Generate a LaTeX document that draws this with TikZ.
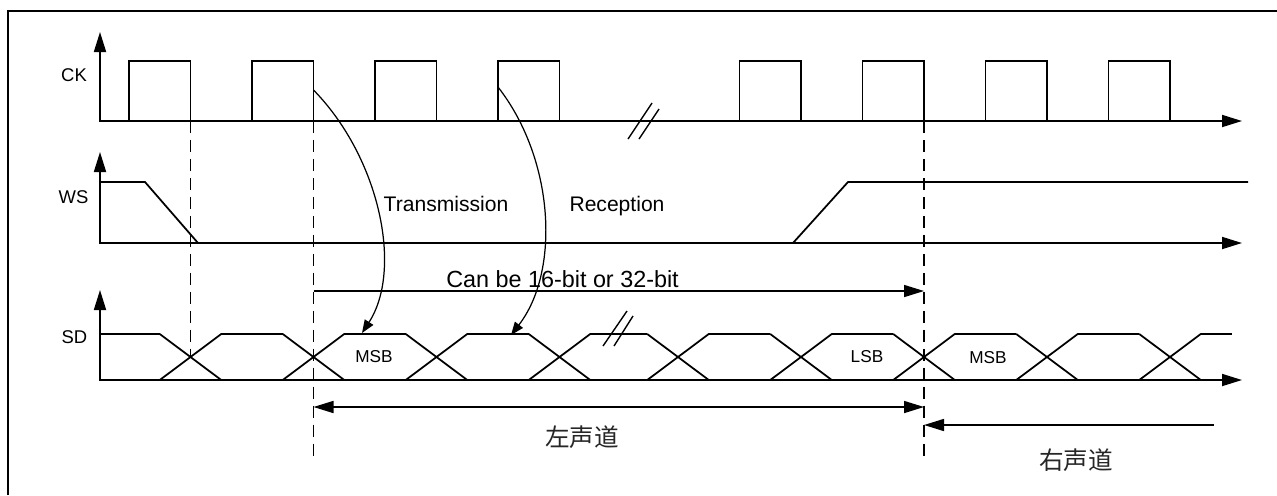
\documentclass[tikz,border=0pt]{standalone}
\usepackage{fontspec}
\setmainfont{Liberation Sans}
\newfontfamily\cjk{Noto Sans CJK SC}
\usepackage{tikz}
\usetikzlibrary{calc, arrows.meta}

\begin{document}
\begin{tikzpicture}[
        x=0.02cm, y=-0.02cm,
        >={Triangle[length=4mm, width=2.4mm]},
        axis/.style={<->, line width=1pt},
        wave/.style={line width=1pt},
        brk/.style={line width=0.8pt},
        guide/.style={line width=0.9pt, dash pattern=on 6.8pt off 4pt},
        curvearrow/.style={-{Triangle[length=2.6mm, width=2mm]}, line width=0.7pt},
        span/.style={->, line width=0.9pt},
        sig/.style={anchor=base, font=\fontsize{10.5}{12}\selectfont},
        note/.style={anchor=base, font=\fontsize{12}{14}\selectfont},
        bit/.style={anchor=base, font=\fontsize{9.8}{12}\selectfont},
        chan/.style={anchor=base, font=\cjk\fontsize{14}{16}\selectfont, text=black!85}
    ]
        \useasboundingbox (0,0) rectangle (1277,495);

        % Frame (only top and left edges are visible)
        \draw[line width=1pt] (8,495) |- (1277,11);

        % Signal names
        \node[sig] (ck) at (74,81) {CK};
        \node[sig] (ws) at (73.5,203) {WS};
        \node[sig] (sd) at (74.5,343) {SD};

        % Axes
        \foreach \y/\t in {121/32, 243/152, 380/290}
            \draw[axis] (100,\t) -- (100,\y) -- (1242,\y);

        % CK pulses
        \foreach \r in {129,252,375,498,739.5,862.5,985.5,1108.5}
            \draw[wave] (\r,121) |- (\r+61.5,61) -- (\r+61.5,121);
        \draw[brk] (628,139) -- (652,103) (639,139) -- (659,109);

        % WS
        \draw[wave] (100,182) -- (145,182) -- (198,243);
        \draw[wave] (793,243) -- (848,182) -- (1248,182);

        % SD
        \draw[wave] (100,334) -- (159.75,334);
        \foreach \c/\d in {190.5/313.5, 313.5/436.5, 436.5/559.5, 559.5/678, 678/801, 801/924, 924/1047, 1047/1170, 1170/1262.5}
            \draw[wave] (\c-30.75,334) -- (\c+30.75,380) (\c-30.75,380) -- (\c+30.75,334) -- (\d-30.75,334);
        \draw[brk] (603,346) -- (627,311) (614,346) -- (633,316);

        % Word boundaries
        \draw[guide] (190.5,121) -- (190.5,357);
        \draw[guide] (313.5,121) -- (313.5,456);
        \draw[guide] (924,121) -- (924,456);

        % Labels
        \node[note] (tx) at (446,211.5) {Transmission};
        \node[note] (rx) at (617,211) {Reception};
        \node[note, font=\fontsize{13.3}{15}\selectfont] (len) at (562.5,287) {Can be 16-bit or 32-bit};
        \node[bit] (msbl) at (374,362.3) {MSB};
        \node[bit] (lsb) at (867,362.5) {LSB};
        \node[bit] (msbr) at (988,363.5) {MSB};
        \node[chan] (lch) at (582,446) {左声道};
        \node[chan] (rch) at (1076,469) {右声道};

        % Arrow end points
        \coordinate (tx_from) at (313.5,90);
        \coordinate (tx_to) at (362,333);
        \coordinate (rx_from) at (498,87);
        \coordinate (rx_to) at (511,335);
        \coordinate (len_L) at (313.5,291);
        \coordinate (len_R) at (924,291);
        \coordinate (lch_L) at (313.5,407);
        \coordinate (lch_R) at (924,407);
        \coordinate (rch_R) at (1214,425);
        \coordinate (rch_L) at (924,425);

        % Arrows
        \draw[curvearrow] (tx_from) .. controls (380,158) and (403,270) .. (tx_to);
        \draw[curvearrow] (rx_from) .. controls (555,160) and (560,272) .. (rx_to);
        \draw[span] (len_L) -- (len_R);
        \draw[span, <->] (lch_L) -- (lch_R);
        \draw[span] (rch_R) -- (rch_L);

    \end{tikzpicture}
\end{document}
